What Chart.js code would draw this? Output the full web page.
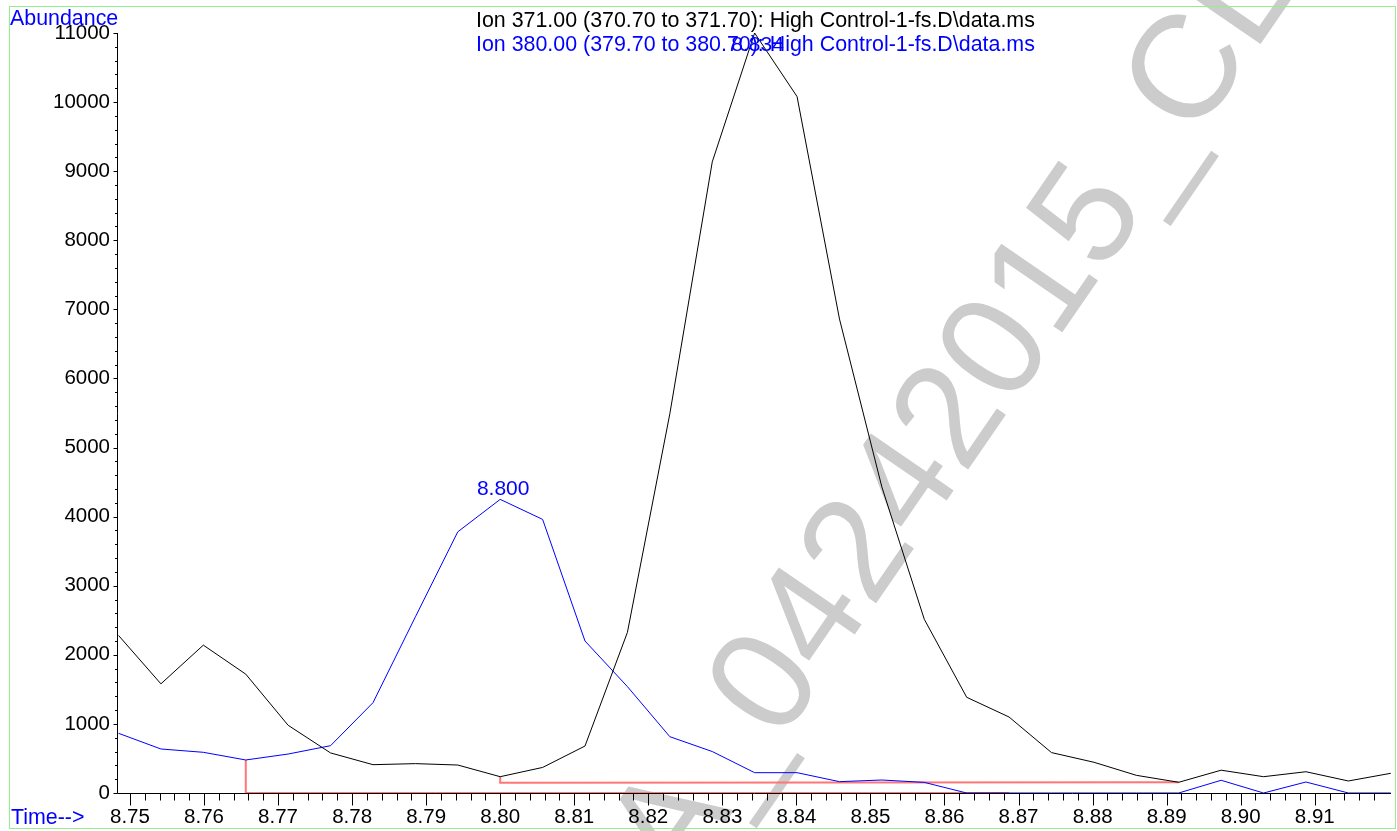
<!DOCTYPE html>
<html>
<head>
<meta charset="utf-8">
<script src="https://cdn.jsdelivr.net/npm/chart.js@4.4.1/dist/chart.umd.min.js"></script>
<style>
  html, body { margin: 0; padding: 0; background: #fff; overflow: hidden; }
  canvas { display: block; }
</style>
</head>
<body>
<canvas id="tic" width="1397" height="831"></canvas>
<script>
// Retention times (min) of the scans
const times = [
  8.74846, 8.75418, 8.75991, 8.76564, 8.77136, 8.77709, 8.78282, 8.78855,
  8.79427, 8.80000, 8.80573, 8.81145, 8.81718, 8.82291, 8.82864, 8.83436,
  8.84009, 8.84582, 8.85154, 8.85727, 8.86300, 8.86872, 8.87445, 8.88018,
  8.88591, 8.89163, 8.89736, 8.90309, 8.90881, 8.91454, 8.92027
];

// Extracted ion abundances
const ion371 = [
  2280, 1580, 2140, 1720, 980, 580, 410, 425,
  405, 236, 370, 680, 2325, 5490, 9135, 11000,
  10080, 6860, 4430, 2515, 1385, 1100, 585, 445,
  256, 155, 330, 236, 308, 174, 285
];
const ion380 = [
  864, 637, 589, 478, 564, 685, 1307, 2550,
  3780, 4250, 3960, 2200, 1540, 815, 600, 294,
  294, 164, 188, 154, 0, 0, 0, 0,
  0, 0, 184, 0, 159, 0, 0
];

// Integration baselines (start drop, baseline to end)
const base380X = [8.76564, 8.76564, 8.86872];
const base380Y = [478, 0, 0];
const base371X = [8.80000, 8.80000, 8.89163];
const base371Y = [236, 150, 155];

// Axis labels
const xTickLabels = ['8.75','8.76','8.77','8.78','8.79','8.80','8.81','8.82',
                     '8.83','8.84','8.85','8.86','8.87','8.88','8.89','8.90','8.91'];
const yTickLabels = ['0','1000','2000','3000','4000','5000','6000','7000',
                     '8000','9000','10000','11000'];

const titleLines = [
  'Ion 371.00 (370.70 to 371.70): High Control-1-fs.D\\data.ms',
  'Ion 380.00 (379.70 to 380.70): High Control-1-fs.D\\data.ms'
];
const watermarkText = 'A_04242015_CL';

const FONT = "'Liberation Sans', Arial, Helvetica, sans-serif";
const BLUE = '#0000ff';
const RED = '#ff7676';

const pts = (xs, ys) => xs.map((x, i) => ({ x: x, y: ys[i] }));

const X_MIN = 8.74825, X_MAX = 8.9203;

const decorPlugin = {
  id: 'decor',
  beforeDraw(chart) {
    const ctx = chart.ctx;
    ctx.save();
    ctx.fillStyle = '#fff';
    ctx.fillRect(0, 0, chart.width, chart.height);

    // watermark
    ctx.translate(760, 680);
    ctx.rotate(-55.5 * Math.PI / 180);
    const size = 146;
    ctx.font = size + 'px ' + FONT;
    ctx.fillStyle = '#cccccc';
    ctx.textBaseline = 'alphabetic';
    ctx.textAlign = 'left';
    const wPre = ctx.measureText('A_').width;
    const w0 = ctx.measureText('0').width;
    ctx.fillText(watermarkText, -(wPre + w0 / 2), 0.716 * size / 2);
    ctx.restore();

    // frame
    ctx.save();
    ctx.strokeStyle = '#8ff08f';
    ctx.lineWidth = 1;
    ctx.strokeRect(9.5, 6.5, 1386, 822);
    ctx.restore();
  },
  beforeDatasetsDraw(chart) {
    const ctx = chart.ctx;
    const xs = chart.scales.x, ys = chart.scales.y;
    const a = chart.chartArea;
    ctx.save();
    ctx.strokeStyle = '#000';
    ctx.lineWidth = 1;
    ctx.beginPath();
    const y0 = Math.round(ys.getPixelForValue(0)) + 0.5;
    const xl = Math.round(a.left) + 0.5;
    ctx.moveTo(xl, Math.round(a.top));
    ctx.lineTo(xl, y0);
    ctx.lineTo(Math.round(a.right), y0);
    // x ticks every 0.002, long ones every 0.01
    for (let i = 0; ; i++) {
      const v = 8.75 + i * 0.002;
      if (v > X_MAX - 0.0012) break;
      const px = Math.round(xs.getPixelForValue(v)) + 0.5;
      ctx.moveTo(px, y0);
      ctx.lineTo(px, y0 + (i % 5 === 0 ? 12 : 7));
    }
    // y ticks every 200, long ones every 1000
    for (let j = 0; j <= 55; j++) {
      const v = j * 200;
      const py = Math.round(ys.getPixelForValue(v)) + 0.5;
      ctx.moveTo(xl, py);
      ctx.lineTo(xl - (j % 5 === 0 ? 4 : 2.5), py);
    }
    ctx.stroke();
    ctx.restore();
  },
  afterDraw(chart) {
    const ctx = chart.ctx;
    const xs = chart.scales.x, ys = chart.scales.y;
    ctx.save();
    ctx.font = '21.4px ' + FONT;
    ctx.textBaseline = 'alphabetic';
    ctx.textAlign = 'left';
    ctx.fillStyle = '#000';
    ctx.fillText(titleLines[0], 476, 27);
    ctx.fillStyle = BLUE;
    ctx.fillText(titleLines[1], 476, 51);
    ctx.fillText('Abundance', 10, 25);
    ctx.fillText('Time-->', 11, 824);

    // retention time labels at the apex of each trace
    ctx.font = '21px ' + FONT;
    ctx.textAlign = 'center';
    [ion380, ion371].forEach(series => {
      let k = 0;
      series.forEach((v, i) => { if (v > series[k]) k = i; });
      const px = xs.getPixelForValue(times[k]);
      const py = ys.getPixelForValue(series[k]);
      ctx.fillText(times[k].toFixed(3), px + 3, Math.max(py - 4, 51));
    });
    ctx.restore();
  }
};

new Chart(document.getElementById('tic'), {
  type: 'line',
  data: {
    datasets: [
      { data: pts(times, ion371), borderColor: '#000', borderWidth: 1 },
      { data: pts(times, ion380), borderColor: BLUE, borderWidth: 1 },
      { data: pts(base380X, base380Y), borderColor: RED, borderWidth: 2 },
      { data: pts(base371X, base371Y), borderColor: RED, borderWidth: 2 }
    ]
  },
  options: {
    responsive: false,
    animation: false,
    devicePixelRatio: 1,
    layout: { padding: { top: 33, right: 6, bottom: 0, left: 0 } },
    elements: {
      point: { radius: 0, hoverRadius: 0 },
      line: { tension: 0, fill: false }
    },
    plugins: { legend: { display: false }, tooltip: { enabled: false }, title: { display: false } },
    events: [],
    scales: {
      x: {
        type: 'linear',
        min: X_MIN,
        max: X_MAX,
        afterBuildTicks: s => { s.ticks = xTickLabels.map(t => ({ value: parseFloat(t) })); },
        afterFit: s => { s.height = 38; },
        grid: { display: false, drawTicks: false },
        border: { display: false },
        ticks: {
          autoSkip: false, maxRotation: 0, minRotation: 0,
          padding: 12, color: '#000',
          font: { family: FONT, size: 20.5 },
          callback: (v, i) => xTickLabels[i]
        }
      },
      y: {
        type: 'linear',
        min: 0,
        max: 11000,
        afterBuildTicks: s => { s.ticks = yTickLabels.map(t => ({ value: parseFloat(t) })); },
        afterFit: s => { s.width = 117; },
        grid: { display: false, drawTicks: false },
        border: { display: false },
        ticks: {
          padding: 7, color: '#000',
          font: { family: FONT, size: 20.5 },
          callback: (v, i) => yTickLabels[i]
        }
      }
    }
  },
  plugins: [decorPlugin]
});
</script>
</body>
</html>
